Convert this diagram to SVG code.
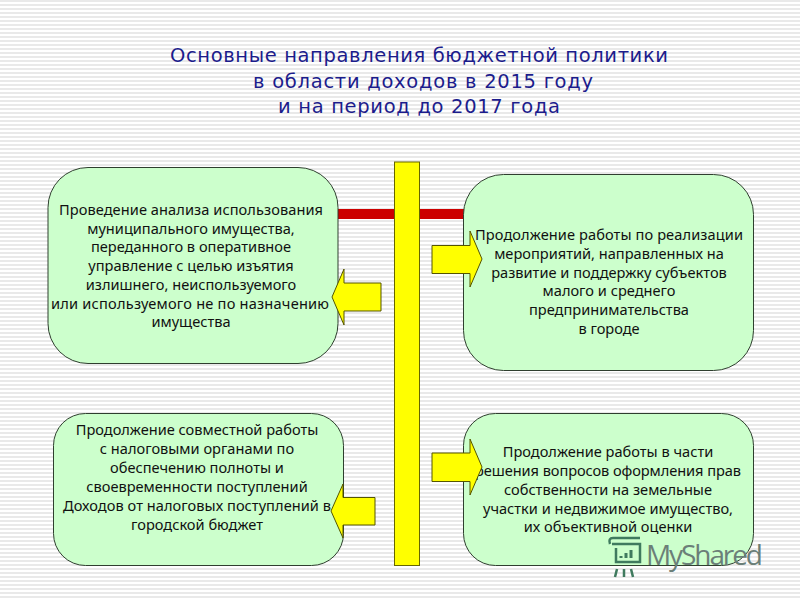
<svg xmlns="http://www.w3.org/2000/svg" width="800" height="600" viewBox="0 0 800 600">
<defs>
<pattern id="stripes" width="4" height="4" patternUnits="userSpaceOnUse"><rect width="4" height="4" fill="#ffffff"/><rect y="0" width="4" height="2" fill="#e9e9e9"/></pattern>
</defs>
<style>
.box{fill:#ccffcc;stroke:#2f3f2f;stroke-width:1}
.arrow{fill:#ffff00;stroke:#555500;stroke-width:1}
.bar{fill:#ffff00;stroke:#666600;stroke-width:1}
.link{fill:#cc0000;stroke:none}
.t{font-family:"Noto Sans","DejaVu Sans",sans-serif;font-size:14.6px;fill:#111;text-anchor:middle}
.h{font-family:"DejaVu Sans",sans-serif;font-size:19.500px;fill:#1c1c8c;text-anchor:middle}
.wm{font-family:"Open Sans","Noto Sans",sans-serif;font-size:28px;fill:#6b7f78}
</style>
<rect width="800" height="600" fill="url(#stripes)"/>
<g id="title">
<text class="h" x="419" y="62" textLength="498" lengthAdjust="spacing">Основные направления бюджетной политики</text>
<text class="h" x="423" y="88" textLength="340" lengthAdjust="spacing">в области доходов в 2015 году</text>
<text class="h" x="419" y="113" textLength="282" lengthAdjust="spacing">и на период до 2017 года</text>
</g>
<g id="connectors">
<rect class="link" x="338" y="209" width="126" height="10"/>
</g>
<g id="node-top-left">
<rect class="box" x="48" y="167.500" width="290" height="196" rx="40" ry="40"/>
<text class="t" x="191" y="215" textLength="264">Проведение анализа использования</text>
<text class="t" x="191" y="234">муниципального имущества,</text>
<text class="t" x="191" y="252">переданного в оперативное</text>
<text class="t" x="191" y="271">управление с целью изъятия</text>
<text class="t" x="191" y="290">излишнего, неиспользуемого</text>
<text class="t" x="190" y="309" textLength="278">или используемого не по назначению</text>
<text class="t" x="191" y="327">имущества</text>
</g>
<g id="node-top-right">
<rect class="box" x="463.500" y="174.500" width="290" height="196" rx="40" ry="40"/>
<text class="t" x="609" y="240" textLength="268">Продолжение работы по реализации</text>
<text class="t" x="609" y="259">мероприятий, направленных на</text>
<text class="t" x="609" y="278">развитие и поддержку субъектов</text>
<text class="t" x="609" y="296">малого и среднего</text>
<text class="t" x="609" y="315">предпринимательства</text>
<text class="t" x="609" y="334">в городе</text>
</g>
<g id="node-bottom-left">
<rect class="box" x="53.500" y="413.500" width="290" height="152" rx="32" ry="32"/>
<text class="t" x="197" y="435">Продолжение совместной работы</text>
<text class="t" x="197" y="454">с налоговыми  органами по</text>
<text class="t" x="197" y="473">обеспечению полноты и</text>
<text class="t" x="197" y="492">своевременности поступлений</text>
<text class="t" x="197" y="511" textLength="268">Доходов от налоговых поступлений в</text>
<text class="t" x="197" y="530">городской бюджет</text>
</g>
<g id="node-bottom-right">
<rect class="box" x="463.500" y="413.500" width="290" height="152" rx="32" ry="32"/>
<text class="t" x="608" y="457">Продолжение работы в части</text>
<text class="t" x="608" y="476" textLength="266">решения вопросов оформления прав</text>
<text class="t" x="608" y="495">собственности на земельные</text>
<text class="t" x="608" y="514">участки и недвижимое имущество,</text>
<text class="t" x="608" y="532">их объективной оценки</text>
</g>
<g id="bar"><rect class="bar" x="394.500" y="162" width="25" height="403.500"/></g>
<g id="arrows">
<polygon class="arrow" points="432,245.500 470,245.500 470,231 482,259 470,287 470,273.500 432,273.500"/>
<polygon class="arrow" points="381,283 344,283 344,269 332,297 344,325 344,311 381,311"/>
<polygon class="arrow" points="432,453 470,453 470,439 482,467 470,495 470,481.500 432,481.500"/>
<polygon class="arrow" points="375,497.500 343,497.500 343,484 331,511 343,538 343,525 375,525"/>
</g>
<g id="watermark">
<path d="M612 544 H640 V562 H616 V548 M610 544 Q608 538 613 538 H640 M617 569 l-2 8 M624 569 v8 M631 569 l2 8" fill="none" stroke="#3f7a5e" stroke-width="2.500"/>
<path d="M621 558 v-2 M626 558 v-5 M631 558 v-8" fill="none" stroke="#3f7a5e" stroke-width="3"/>
<text class="wm" x="646" y="565" textLength="117">MyShared</text>
</g>
</svg>
